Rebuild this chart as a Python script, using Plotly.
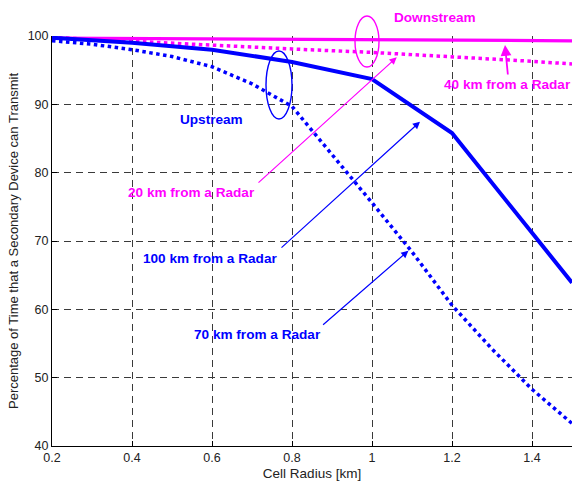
import plotly.graph_objects as go

# Cell radius samples [km]
radius = [0.2, 0.4, 0.6, 0.8, 1.0, 1.2, 1.4, 1.5]
radius_fine = [0.2, 0.3, 0.4, 0.5, 0.6, 0.7, 0.8, 0.9, 1.0, 1.1, 1.2, 1.3, 1.4, 1.5]

# Percentage of time a secondary device can transmit
down_40km = [99.7, 99.65, 99.6, 99.55, 99.5, 99.45, 99.35, 99.3]
down_20km = [99.8, 99.2, 98.7, 98.1, 97.6, 97.0, 96.3, 95.9]
up_100km = [99.75, 99.0, 98.0, 96.2, 93.7, 85.8, 71.2, 63.9]
up_70km = [99.3, 98.8, 98.0, 97.0, 95.5, 93.0, 89.7, 82.7, 75.6, 68.4, 60.6, 54.2, 48.3, 43.3]

x_ticks = [0.2, 0.4, 0.6, 0.8, 1.0, 1.2, 1.4]
x_tick_text = ["0.2", "0.4", "0.6", "0.8", "1", "1.2", "1.4"]
y_ticks = [40, 50, 60, 70, 80, 90, 100]

X_RANGE = [0.2, 1.5]
Y_RANGE = [40, 100]

BLUE = "#0000FF"
MAGENTA = "#FF00FF"


def px(x):
    return (x - X_RANGE[0]) / (X_RANGE[1] - X_RANGE[0])


def py(y):
    return (y - Y_RANGE[0]) / (Y_RANGE[1] - Y_RANGE[0])


fig = go.Figure()
fig.add_trace(go.Scatter(x=radius, y=down_40km, mode="lines",
                         line=dict(color=MAGENTA, width=3.2), cliponaxis=False))
fig.add_trace(go.Scatter(x=radius, y=down_20km, mode="lines",
                         line=dict(color=MAGENTA, width=3.5, dash="3.5px,3.5px")))
fig.add_trace(go.Scatter(x=radius, y=up_100km, mode="lines",
                         line=dict(color=BLUE, width=4)))
fig.add_trace(go.Scatter(x=radius_fine, y=up_70km, mode="lines",
                         line=dict(color=BLUE, width=3.5, dash="3.5px,3.5px")))

label_font = dict(family="Liberation Sans, Arial", size=13.6)

# Labels placed in paper coordinates (some sit above the plotting area)
texts = [
    ("Downstream", 1.1575, 102.78, MAGENTA),
    ("40 km from a Radar", 1.33875, 92.83, MAGENTA),
    ("Upstream", 0.59875, 87.85, BLUE),
    ("20 km from a Radar", 0.54875, 77.17, MAGENTA),
    ("100 km from a Radar", 0.59625, 67.51, BLUE),
    ("70 km from a Radar", 0.7125, 56.39, BLUE),
]
for t, x, y, c in texts:
    fig.add_annotation(x=px(x), y=py(y), xref="paper", yref="paper",
                       xanchor="center", yanchor="middle",
                       text="<b>%s</b>" % t, showarrow=False,
                       font=dict(color=c, **label_font))

# Pointer arrows: (tail x, tail y, head x, head y, colour, width)
arrows = [
    (1.34, 94.15, 1.3325, 98.68, MAGENTA, 1.8),
    (0.7125, 78.34, 1.0618, 96.88, MAGENTA, 1.2),
    (0.77, 68.83, 1.12, 87.46, BLUE, 1.2),
    (0.874, 57.56, 1.091, 68.58, BLUE, 1.2),
]
for x0, y0, x1, y1, c, w in arrows:
    fig.add_annotation(x=x1, y=y1, ax=x0, ay=y0, xref="x", yref="y",
                       axref="x", ayref="y", text="", showarrow=True,
                       arrowhead=2, arrowsize=1.2, arrowwidth=w, arrowcolor=c)

# Ellipses grouping the curves
ellipses = [
    (0.735, 87.85, 0.80, 97.8, BLUE),
    (0.9575, 95.46, 1.0175, 102.93, MAGENTA),
]
for x0, y0, x1, y1, c in ellipses:
    fig.add_shape(type="circle", xref="paper", yref="paper",
                  x0=px(x0), y0=py(y0), x1=px(x1), y1=py(y1),
                  line=dict(color=c, width=1.4))

axis_common = dict(
    showline=True, linecolor="black", linewidth=1,
    ticks="inside", ticklen=5, tickcolor="black",
    showgrid=True, gridcolor="#3a3a3a", gridwidth=1, griddash="7px,5px",
    zeroline=False,
    tickfont=dict(family="Liberation Sans, Arial", size=12.5, color="#222222"),
)

fig.update_layout(
    width=574, height=483,
    margin=dict(l=52, r=2, t=36, b=37),
    paper_bgcolor="white", plot_bgcolor="white",
    showlegend=False,
    xaxis=dict(range=X_RANGE, tickvals=x_ticks, ticktext=x_tick_text,
               title=dict(text="Cell Radius [km]", standoff=4,
                          font=dict(family="Liberation Sans, Arial", size=13.5, color="#222222")),
               **axis_common),
    yaxis=dict(range=Y_RANGE, tickvals=y_ticks,
               title=dict(text="Percentage of Time that a Secondary Device can Transmit",
                          standoff=6,
                          font=dict(family="Liberation Sans, Arial", size=13, color="#222222")),
               **axis_common),
)

fig.write_html("out.html")
